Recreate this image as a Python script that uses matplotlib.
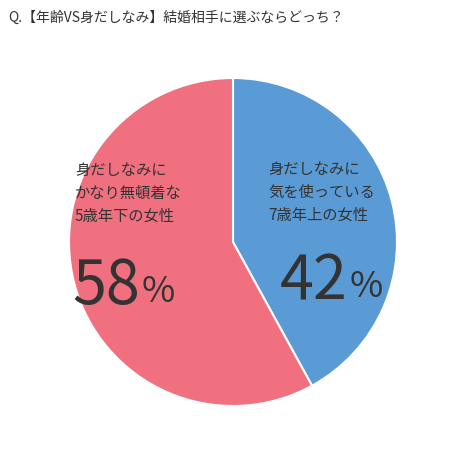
import matplotlib.pyplot as plt

plt.rcParams['font.family'] = ['Noto Sans CJK JP', 'DejaVu Sans']

title = 'Q.【年齢VS身だしなみ】結婚相手に選ぶならどっち？'
labels = ['身だしなみに\n気を使っている\n7歳年上の女性', '身だしなみに\nかなり無頓着な\n5歳年下の女性']
values = [42, 58]
colors = ['#5b9bd5', '#f0707f']

W, H = 457, 459
fig = plt.figure(figsize=(W / 100, H / 100), dpi=100)
ax = fig.add_axes([28 / W, (H - 242 - 205) / H, 410 / W, 410 / H])
ax.pie(values, colors=colors, startangle=90, counterclock=False,
       wedgeprops=dict(edgecolor='white', linewidth=1.5))
ax.set_aspect('equal')

def px(x, y):
    return x / W, 1 - y / H

fig.text(*px(8, 18), title, fontsize=10, color='#333333', va='center', ha='left')

fig.text(*px(268, 192), labels[0], fontsize=11, color='#333333', va='center',
         ha='left', linespacing=1.45)
fig.text(*px(75, 193), labels[1], fontsize=11, color='#333333', va='center',
         ha='left', linespacing=1.45)

for (x, y), v in zip([(280, 282), (72, 287)], values):
    t = fig.text(*px(x, y), str(v), fontsize=44, color='#333333', va='center', ha='left')
    fig.canvas.draw()
    bb = t.get_window_extent()
    fig.text((bb.x1 + 2) / W, bb.y0 / H + 8 / H, '%', fontsize=26, color='#333333',
             va='bottom', ha='left')

fig.savefig('out.png', dpi=100, facecolor='white')
